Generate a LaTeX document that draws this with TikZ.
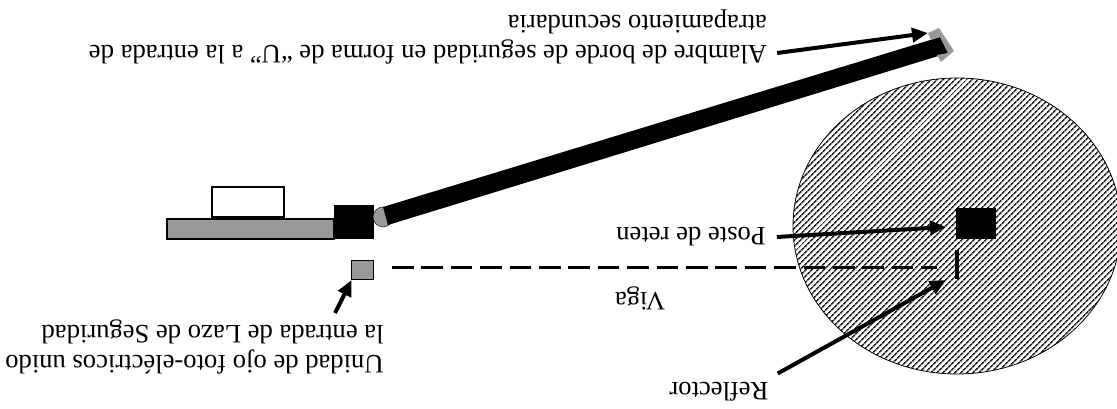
\documentclass[tikz,border=0pt]{standalone}
\usepackage{fontspec}
\setmainfont{Liberation Serif}
\usepackage{tikz}
\usetikzlibrary{arrows.meta, patterns.meta, positioning}
\definecolor{ink}{RGB}{0,0,0}
\definecolor{ash}{RGB}{153,153,153}
\begin{document}
\begin{tikzpicture}[
    x=1pt, y=1pt, font=\fontsize{26.6}{30}\selectfont,
    lbl/.style={rotate=180,inner sep=0pt,align=left},
    ptr/.style={-{Triangle[length=16pt,width=14pt]},line width=4pt,ink},
    solid block/.style={rectangle,fill=ink,draw=none,inner sep=0pt},
    gray block/.style={rectangle,fill=ash,draw=ink,inner sep=0pt}]

  \useasboundingbox (0,0) rectangle (1117,409);

  \draw[ink,line width=0.8pt,pattern={Lines[angle=45,distance=4pt,line width=1.7pt]},pattern color=ink!85]
        (957,183) ellipse [x radius=164,y radius=148];

  \node[gray block,line width=1.5pt,minimum width=167pt,minimum height=20pt] (rail) at (250.5,180) {};
  \node[rectangle,fill=white,draw=ink,line width=2pt,inner sep=0pt,minimum width=72pt,minimum height=30pt,
        above=0pt of rail.north west,xshift=82pt,anchor=south] (carriage) {};
  \node[solid block,minimum width=40pt,minimum height=34pt] (hub) at (354,187) {};
  \node[circle,fill=ash,draw=ink,inner sep=0pt,minimum size=20pt] (pivot) at (383,192) {};
  \fill[ink] (383,202) -- (940,372) -- (948,356) -- (388,184) -- cycle;
  \fill[ash] (928,376) -- (939,381) -- (954,358) -- (941,347) -- (937,354) -- (948,356) -- (940,372) -- (931,369) -- cycle;

  \node[gray block,thin,minimum width=22pt,minimum height=19pt] (eye) at (362,139.5) {};
  \node[solid block,minimum width=40pt,minimum height=31pt] (post) at (976,185.5) {};
  \node[solid block,minimum width=3.5pt,minimum height=29pt] (reflector) at (957,144.5) {};

  \coordinate (beamend) at (937,141);
  \coordinate (beamstart) at (392,141);
  \draw[ink,line width=3pt,dash pattern=on 21.5pt off 7.9pt] (beamstart) -- (beamend);

  \node[lbl] (lblpost) at (691,172) {Poste de reten};
  \node[lbl] (lblbeam) at (640,111) {Viga};
  \node[lbl] (lblrefl) at (719,17.5) {Reflector};
  \node[lbl] (lbleye) at (194.5,62) {Unidad de ojo foto-eléctricos unido\\la entrada de Lazo de Seguridad};
  \node[lbl] (lblwire) at (428,372) {Alambre de borde de seguridad en forma de “U” a la entrada de\\atrapamiento secundaria};

  \coordinate (postpt) at (946,182);
  \coordinate (reflpt) at (946,129);
  \coordinate (eyept) at (351.7,129);
  \coordinate (wirept) at (928,376);
  \draw[ptr] (lblpost.west) ++(11,0) -- (postpt);
  \draw[ptr] (lblrefl.west) ++(9,18) -- (reflpt);
  \draw[ptr] (335,96) -- (eyept);
  \draw[ptr] (lblwire.west) ++(10,-16) -- (wirept);
\end{tikzpicture}
\end{document}
